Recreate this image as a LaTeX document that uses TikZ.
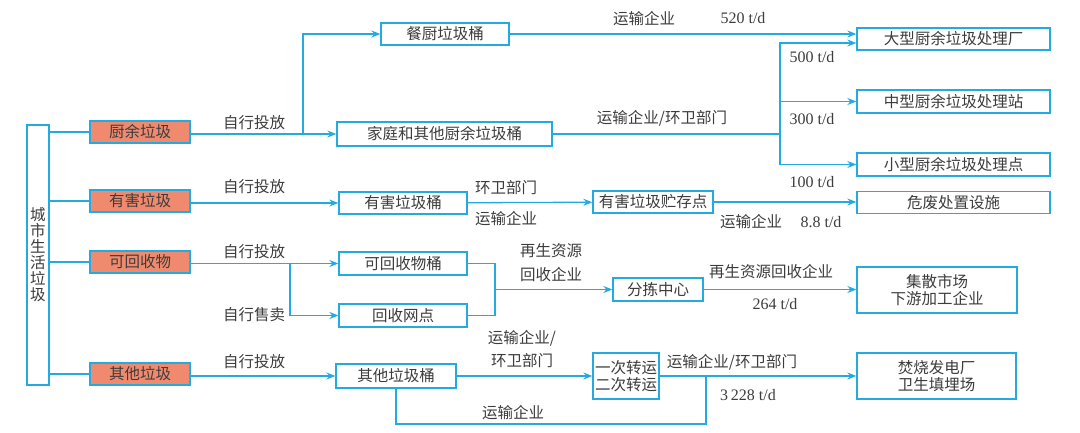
\documentclass[tikz,border=0pt]{standalone}
\usepackage{fontspec}
\setmainfont{Liberation Serif}
\newfontfamily\cjk{Noto Sans CJK SC}
\usetikzlibrary{arrows.meta,scopes}
\definecolor{lineblue}{RGB}{35,170,225}
\definecolor{hdfill}{RGB}{240,138,110}
\definecolor{txtgray}{RGB}{60,60,60}

\begin{document}
\begin{tikzpicture}[x=1pt,y=-1pt,line width=1.3pt,
    zh/.style={font=\cjk\fontsize{15.5}{17}\selectfont,text=txtgray},
    num/.style={font=\fontsize{16}{18}\selectfont,text=txtgray},
    box/.style={zh,rectangle,draw=lineblue,fill=white,inner sep=0pt,align=center},
    hd/.style={box,fill=hdfill,minimum width=100pt,minimum height=22pt},
    lbl/.style={zh,inner sep=0pt,align=center},
    arr/.style={-{Stealth[length=9pt,width=7pt,inset=3pt]}}]
        \useasboundingbox (0,0) rectangle (1080,433);
        \tikzset{every path/.append style={draw=lineblue}}
        % source and categories
        \node[box,minimum width=22pt,minimum height=260pt,font=\cjk\fontsize{15.5}{16}\selectfont] (city) at (38,255) {城\\市\\生\\活\\垃\\圾};
        \node[hd] (kitchen) at (140,132) {厨余垃圾};
        \node[hd] (hazard) at (140,201) {有害垃圾};
        \node[hd] (recyc) at (140,262) {可回收物};
        \node[hd] (other) at (140,374) {其他垃圾};
        % bins and points
        \node[box,minimum width=128pt,minimum height=22pt] (canbin) at (445,34) {餐厨垃圾桶};
        \node[box,minimum width=215pt,minimum height=24pt] (homebin) at (444.5,134) {家庭和其他厨余垃圾桶};
        \node[box,minimum width=128pt,minimum height=22pt] (hazbin) at (403,203) {有害垃圾桶};
        \node[box,minimum width=120pt,minimum height=22pt] (hazstore) at (653,202) {有害垃圾贮存点};
        \node[box,minimum width=128pt,minimum height=23pt] (recbin) at (403,263.5) {可回收物桶};
        \node[box,minimum width=128pt,minimum height=23pt] (recpoint) at (403,315.5) {回收网点};
        \node[box,minimum width=90pt,minimum height=23pt] (sort) at (658,289.5) {分拣中心};
        \node[box,minimum width=120pt,minimum height=24pt] (othbin) at (396,376) {其他垃圾桶};
        \node[box,minimum width=66pt,minimum height=46pt] (transfer) at (626,376) {一次转运\\二次转运};
        % end points
        \node[box,minimum width=193pt,minimum height=22pt] (large) at (953.5,39) {大型厨余垃圾处理厂};
        \node[box,minimum width=193pt,minimum height=23pt] (medium) at (953.5,101.5) {中型厨余垃圾处理站};
        \node[box,minimum width=193pt,minimum height=23pt] (small) at (953.5,164.5) {小型厨余垃圾处理点};
        \node[box,minimum width=193pt,minimum height=22pt] (hazfac) at (953.5,202.5) {危废处置设施};
        \node[box,minimum width=160pt,minimum height=46pt] (market) at (937,290) {集散市场\\下游加工企业};
        \node[box,minimum width=159pt,minimum height=46pt] (burn) at (936.5,376) {焚烧发电厂\\卫生填埋场};
        % branch points
        \coordinate (kbr) at (303,134);
        \coordinate (hbr) at (780,134);
        \coordinate (rbr) at (290,263.5);
        \coordinate (sbr) at (495,289.5);
        \coordinate (tbr) at (706,376);
        \coordinate (tlow) at (706,424);
        % connectors
        \draw (city.east |- kitchen) -- (kitchen);
        \draw (city.east |- hazard) -- (hazard);
        \draw (city.east |- recyc) -- (recyc);
        \draw (city.east |- other) -- (other);
        {[arr]
        \draw (kitchen.east |- homebin) -- (homebin);
        \draw (kbr) |- (canbin);
        \draw (canbin) -- (canbin -| large.west);
        \draw (homebin) -- (hbr) |- ([yshift=-4pt]large.west);
        \draw (hbr) |- (medium);
        \draw (hbr) |- (small);
        \draw (hazard.east |- hazbin) -- (hazbin);
        \draw (hazbin) -- (hazstore);
        \draw (hazstore) -- (hazfac.west |- hazstore);
        \draw (recyc.east |- recbin) -- (recbin);
        \draw (rbr) |- (recpoint);
        \draw (sbr) -- (sort);
        \draw (sort) -- (market.west |- sort);
        \draw (other.east |- othbin) -- (othbin);
        \draw (othbin) -- (transfer);
        \draw (transfer) -- (burn);
        }
        \draw (recbin) -| (sbr);
        \draw (recpoint) -| (sbr);
        \draw (othbin.south) |- (tlow) -- (tbr);
        % labels
        \node[lbl] (put1) at (254,123) {自行投放};
        \node[lbl] (put2) at (254,187) {自行投放};
        \node[lbl] (put3) at (254,252) {自行投放};
        \node[lbl] (sell) at (254,315) {自行售卖};
        \node[lbl] (put4) at (254,362) {自行投放};
        \node[lbl] (trans1) at (644,19) {运输企业};
        \node[num] (v520) at (743,18) {520 t/d};
        \node[lbl] (trans2) at (662,118) {运输企业/环卫部门};
        \node[num] (v500) at (812,57) {500 t/d};
        \node[num] (v300) at (812,119) {300 t/d};
        \node[num] (v100) at (812,182) {100 t/d};
        \node[lbl] (sanit1) at (506,188) {环卫部门};
        \node[lbl] (trans3) at (506,219) {运输企业};
        \node[lbl] (trans4) at (751,222) {运输企业};
        \node[num] (v88) at (821,222) {8.8 t/d};
        \node[lbl,font=\cjk\fontsize{15.5}{23.5}\selectfont] (renew1) at (551,262.5) {再生资源\\回收企业};
        \node[lbl] (renew2) at (771,272) {再生资源回收企业};
        \node[num] (v264) at (775,304) {264 t/d};
        \node[lbl,font=\cjk\fontsize{15.5}{23}\selectfont] (trans5) at (522,349) {运输企业/\\环卫部门};
        \node[lbl] (trans6) at (732,362) {运输企业/环卫部门};
        \node[num] (v3228) at (748,395) {3\,228 t/d};
        \node[lbl] (trans7) at (513,413) {运输企业};
    \end{tikzpicture}
\end{document}
